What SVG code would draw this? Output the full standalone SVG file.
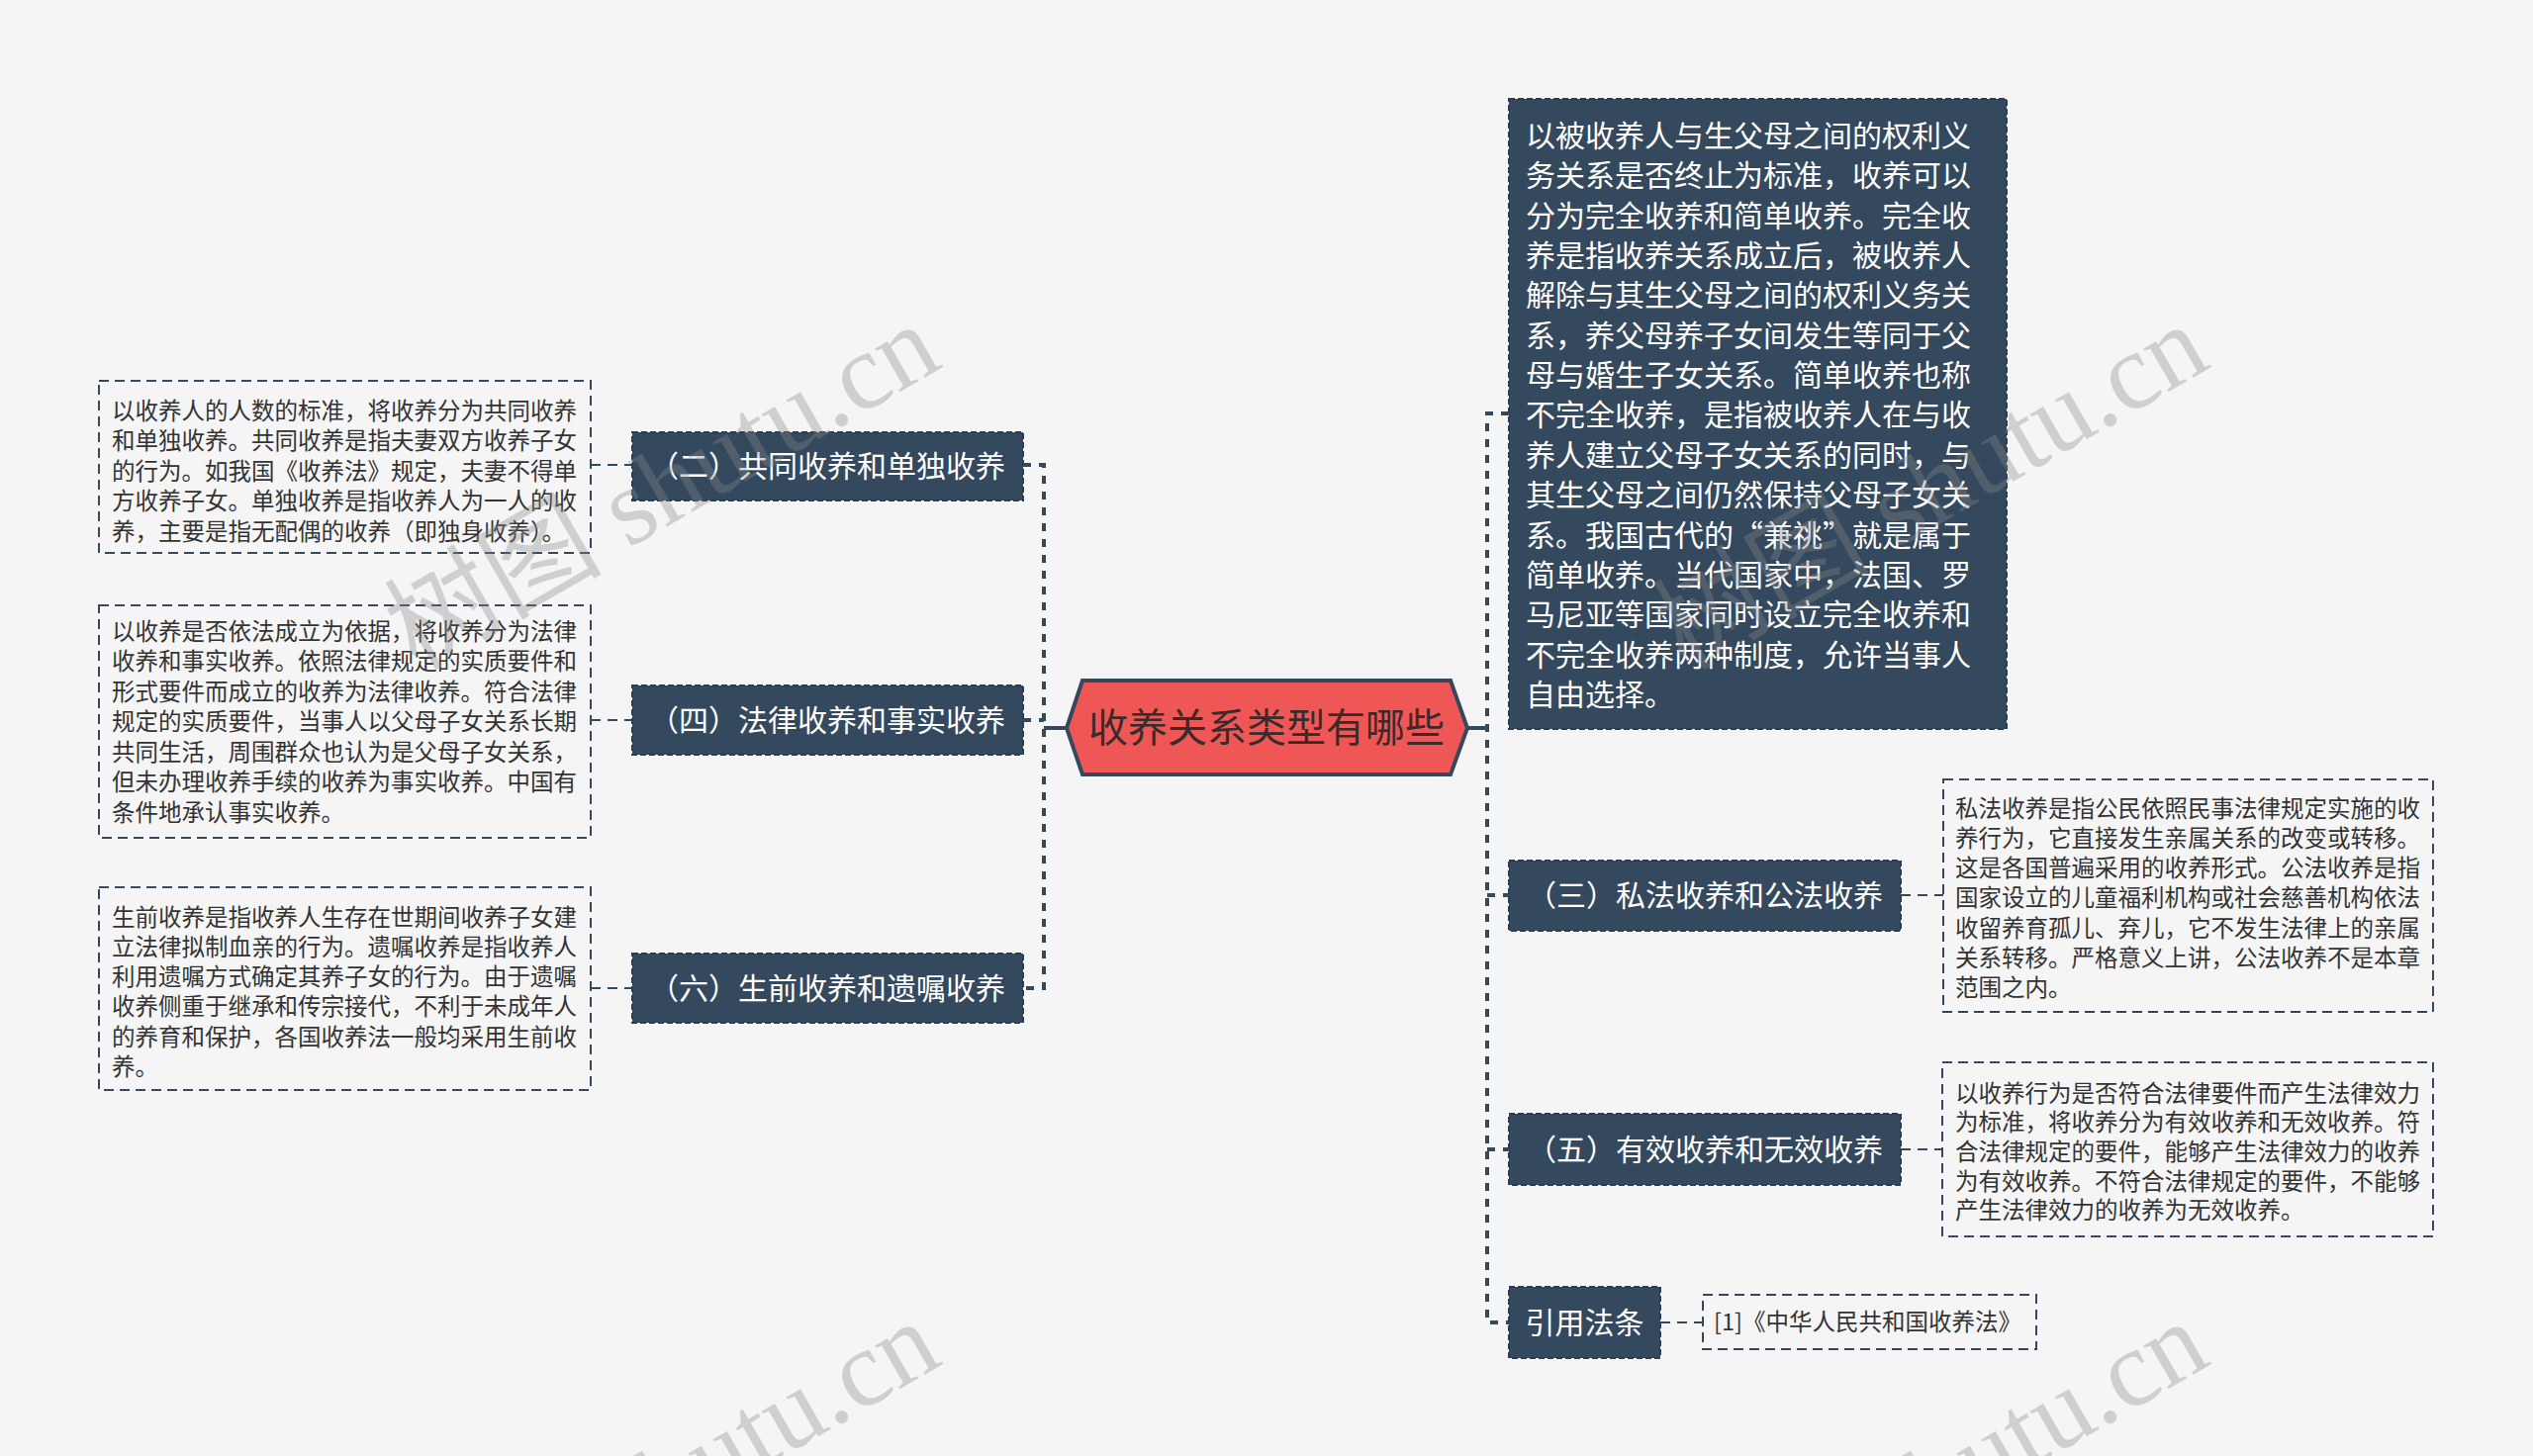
<svg xmlns="http://www.w3.org/2000/svg" width="2560" height="1472" viewBox="0 0 2560 1472">
<defs>
<style>
.bg{fill:#f5f5f5}
.dark{fill:#34495e;stroke:#2c3e50;stroke-width:2;stroke-dasharray:6 3}
.leaf{fill:none;stroke:#34495e;stroke-width:2;stroke-dasharray:10 6}
.trunk{fill:none;stroke:#34495e;stroke-width:4;stroke-dasharray:8 8}
.thin{fill:none;stroke:#34495e;stroke-width:2;stroke-dasharray:10 7}
.solid{fill:none;stroke:#34495e;stroke-width:4}
.hex{fill:#ef5757;stroke:#34495e;stroke-width:4}
.t{font-family:"Noto Sans CJK SC","Noto Sans",sans-serif}
.lt{font-size:23.5px;fill:#333333}
.wt{font-size:30px;fill:#ffffff}
.mt{font-size:30px;fill:#ffffff;text-anchor:middle}
.ct{font-size:40px;fill:#3a2a2a;text-anchor:middle}
.wm{font-family:"Liberation Serif","Noto Sans CJK SC",serif;font-size:110px;fill:#8a8a8a;fill-opacity:0.35;text-anchor:end}
</style>
</defs>
<rect class="bg" x="0" y="0" width="2560" height="1472"/>

<g id="connectors">
<path class="trunk" d="M1034 470 H1055 V999 H1034"/>
<path class="trunk" d="M1034 728 H1055"/>
<path class="solid" d="M1055 736 H1078"/>
<path class="trunk" d="M1525 418 H1503 V1337 H1525"/>
<path class="trunk" d="M1503 905 H1525"/>
<path class="trunk" d="M1503 1162 H1525"/>
<path class="solid" d="M1483 736 H1503"/>
<path class="thin" d="M597 470 H639"/>
<path class="thin" d="M597 728 H639"/>
<path class="thin" d="M597 999 H639"/>
<path class="thin" d="M1921 905 H1964"/>
<path class="thin" d="M1921 1162 H1963"/>
<path class="thin" d="M1678 1337 H1721"/>
</g>

<g id="root">
<polygon class="hex" points="1078,736 1094,688 1466,688 1483,736 1466,783 1094,783"/>
<text class="t ct" x="1280" y="750">收养关系类型有哪些</text>
</g>

<g id="n2">
<rect class="dark" x="639" y="437" width="395" height="69"/>
<text class="t mt" x="836" y="482">（二）共同收养和单独收养</text>
</g>
<g id="n2-detail">
<rect class="leaf" x="100" y="385" width="497" height="174"/>
<text class="t lt" x="113" y="423.5">以收养人的人数的标准，将收养分为共同收养</text>
<text class="t lt" x="113" y="454">和单独收养。共同收养是指夫妻双方收养子女</text>
<text class="t lt" x="113" y="484.5">的行为。如我国《收养法》规定，夫妻不得单</text>
<text class="t lt" x="113" y="515">方收养子女。单独收养是指收养人为一人的收</text>
<text class="t lt" x="113" y="545.5">养，主要是指无配偶的收养（即独身收养）。</text>
</g>

<g id="n4">
<rect class="dark" x="639" y="693" width="395" height="70"/>
<text class="t mt" x="836" y="739">（四）法律收养和事实收养</text>
</g>
<g id="n4-detail">
<rect class="leaf" x="100" y="612" width="497" height="235"/>
<text class="t lt" x="113" y="646.5">以收养是否依法成立为依据，将收养分为法律</text>
<text class="t lt" x="113" y="677">收养和事实收养。依照法律规定的实质要件和</text>
<text class="t lt" x="113" y="707.5">形式要件而成立的收养为法律收养。符合法律</text>
<text class="t lt" x="113" y="738">规定的实质要件，当事人以父母子女关系长期</text>
<text class="t lt" x="113" y="768.5">共同生活，周围群众也认为是父母子女关系，</text>
<text class="t lt" x="113" y="799">但未办理收养手续的收养为事实收养。中国有</text>
<text class="t lt" x="113" y="829.5">条件地承认事实收养。</text>
</g>

<g id="n6">
<rect class="dark" x="639" y="964" width="395" height="70"/>
<text class="t mt" x="836" y="1010">（六）生前收养和遗嘱收养</text>
</g>
<g id="n6-detail">
<rect class="leaf" x="100" y="897" width="497" height="205"/>
<text class="t lt" x="113" y="935.5">生前收养是指收养人生存在世期间收养子女建</text>
<text class="t lt" x="113" y="965.8">立法律拟制血亲的行为。遗嘱收养是指收养人</text>
<text class="t lt" x="113" y="996.1">利用遗嘱方式确定其养子女的行为。由于遗嘱</text>
<text class="t lt" x="113" y="1026.4">收养侧重于继承和传宗接代，不利于未成年人</text>
<text class="t lt" x="113" y="1056.7">的养育和保护，各国收养法一般均采用生前收</text>
<text class="t lt" x="113" y="1087">养。</text>
</g>

<g id="n1">
<rect class="dark" x="1525" y="100" width="503" height="637"/>
<text class="t wt" x="1542" y="148">以被收养人与生父母之间的权利义</text>
<text class="t wt" x="1542" y="188.35">务关系是否终止为标准，收养可以</text>
<text class="t wt" x="1542" y="228.7">分为完全收养和简单收养。完全收</text>
<text class="t wt" x="1542" y="269.05">养是指收养关系成立后，被收养人</text>
<text class="t wt" x="1542" y="309.4">解除与其生父母之间的权利义务关</text>
<text class="t wt" x="1542" y="349.75">系，养父母养子女间发生等同于父</text>
<text class="t wt" x="1542" y="390.1">母与婚生子女关系。简单收养也称</text>
<text class="t wt" x="1542" y="430.45">不完全收养，是指被收养人在与收</text>
<text class="t wt" x="1542" y="470.8">养人建立父母子女关系的同时，与</text>
<text class="t wt" x="1542" y="511.15">其生父母之间仍然保持父母子女关</text>
<text class="t wt" x="1542" y="551.5">系。我国古代的“兼祧”就是属于</text>
<text class="t wt" x="1542" y="591.85">简单收养。当代国家中，法国、罗</text>
<text class="t wt" x="1542" y="632.2">马尼亚等国家同时设立完全收养和</text>
<text class="t wt" x="1542" y="672.55">不完全收养两种制度，允许当事人</text>
<text class="t wt" x="1542" y="712.9">自由选择。</text>
</g>

<g id="n3">
<rect class="dark" x="1525" y="870" width="396" height="71"/>
<text class="t mt" x="1723" y="916">（三）私法收养和公法收养</text>
</g>
<g id="n3-detail">
<rect class="leaf" x="1964" y="788" width="495" height="235"/>
<text class="t lt" x="1976" y="825.5">私法收养是指公民依照民事法律规定实施的收</text>
<text class="t lt" x="1976" y="855.8">养行为，它直接发生亲属关系的改变或转移。</text>
<text class="t lt" x="1976" y="886.1">这是各国普遍采用的收养形式。公法收养是指</text>
<text class="t lt" x="1976" y="916.4">国家设立的儿童福利机构或社会慈善机构依法</text>
<text class="t lt" x="1976" y="946.7">收留养育孤儿、弃儿，它不发生法律上的亲属</text>
<text class="t lt" x="1976" y="977">关系转移。严格意义上讲，公法收养不是本章</text>
<text class="t lt" x="1976" y="1007.3">范围之内。</text>
</g>

<g id="n5">
<rect class="dark" x="1525" y="1126" width="396" height="72"/>
<text class="t mt" x="1723" y="1173">（五）有效收养和无效收养</text>
</g>
<g id="n5-detail">
<rect class="leaf" x="1963" y="1074" width="496" height="176"/>
<text class="t lt" x="1976" y="1113.5">以收养行为是否符合法律要件而产生法律效力</text>
<text class="t lt" x="1976" y="1143.2">为标准，将收养分为有效收养和无效收养。符</text>
<text class="t lt" x="1976" y="1172.9">合法律规定的要件，能够产生法律效力的收养</text>
<text class="t lt" x="1976" y="1202.6">为有效收养。不符合法律规定的要件，不能够</text>
<text class="t lt" x="1976" y="1232.3">产生法律效力的收养为无效收养。</text>
</g>

<g id="n7">
<rect class="dark" x="1525" y="1301" width="153" height="72"/>
<text class="t mt" x="1601.5" y="1348">引用法条</text>
</g>
<g id="n7-detail">
<rect class="leaf" x="1721" y="1309" width="337" height="55"/>
<text class="t lt" x="1732" y="1345">[1]《中华人民共和国收养法》</text>
</g>

<g id="watermark">
<text class="wm" transform="translate(955 370) rotate(-30)">树图 shutu.cn</text>
<text class="wm" transform="translate(2237 370) rotate(-30)">树图 shutu.cn</text>
<text class="wm" transform="translate(955 1378) rotate(-30)">树图 shutu.cn</text>
<text class="wm" transform="translate(2237 1378) rotate(-30)">树图 shutu.cn</text>
</g>
</svg>
